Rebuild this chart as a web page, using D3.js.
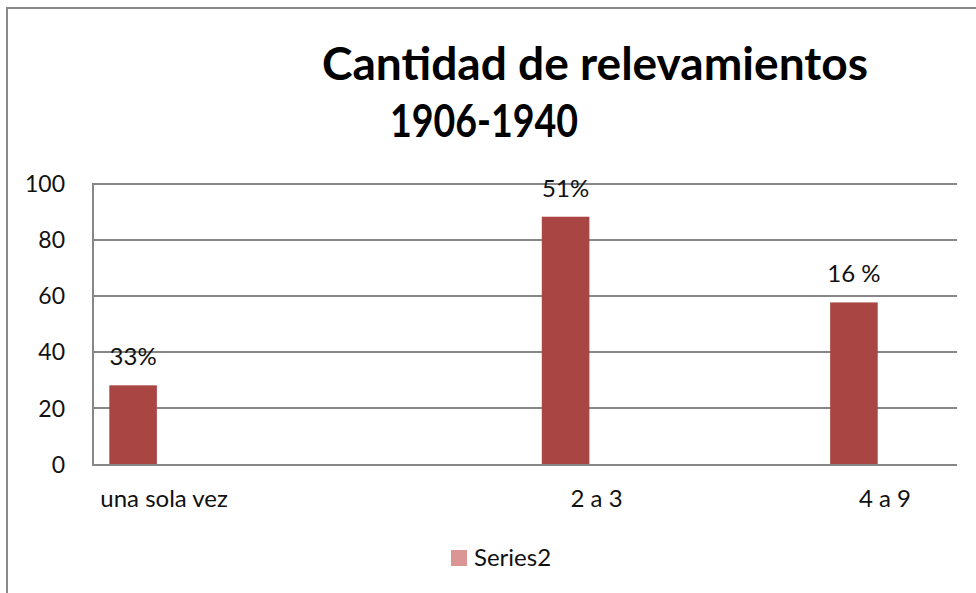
<!DOCTYPE html>
<html lang="es">
<head>
<meta charset="utf-8">
<title>Cantidad de relevamientos 1906-1940</title>
<script src="https://cdn.jsdelivr.net/npm/d3@7"></script>
<style>
  body { margin: 0; background: #ffffff; }
  text { font-family: Lato, "Open Sans", sans-serif; fill: #111111; }
  .grid line, .grid path { stroke: #878787; stroke-width: 2px; shape-rendering: crispEdges; }
  .grid text { font-size: 23px; }
  .cats text { font-size: 24px; }
  .barLabel { font-size: 24px; text-anchor: middle; }
  .title { font-size: 46px; font-weight: bold; fill: #000000; }
</style>
</head>
<body>
<svg width="976" height="593"></svg>
<script>
// données (catégories vides = emplacements sans barre)
const categories = ["una sola vez", "", "", "2 a 3", "", "4 a 9"];
const values = [28, null, null, 88, null, 57.5];
const barLabels = ["33%", "", "", "51%", "", "16 %"];
const yTicks = [0, 20, 40, 60, 80, 100];
const seriesName = "Series2";

const svg = d3.select("svg");

// cadre du graphique
svg.append("rect")
  .attr("x", 7).attr("y", 8)
  .attr("width", 1000).attr("height", 620)
  .style("fill", "none")
  .style("stroke", "#8a8a8a")
  .style("stroke-width", 2);

const x = d3.scaleBand()
  .domain(d3.range(categories.length))
  .range([92, 957]);

const y = d3.scaleLinear()
  .domain([0, 100])
  .range([464, 183]);

// grille + axe vertical
const axeY = d3.axisLeft(y)
  .tickValues(yTicks)
  .tickSize(-(957 - 92))
  .tickSizeOuter(0)
  .tickPadding(27);

svg.append("g")
  .classed("grid", true)
  .attr("transform", "translate(92,0)")
  .call(axeY)
  .call(g => g.selectAll("text").attr("dy", "0.36em"));

// barres
const bw = x.bandwidth();
const donnees = values.map((v, i) => ({ i: i, v: v, l: barLabels[i] })).filter(d => d.v !== null);

svg.selectAll("rect.bar")
  .data(donnees)
  .enter()
  .append("rect")
    .classed("bar", true)
    .attr("x", d => x(d.i) + bw * 0.12)
    .attr("width", bw * 0.33)
    .attr("y", d => y(d.v))
    .attr("height", d => y(0) - y(d.v))
    .style("fill", "#a94643");

// étiquettes des barres
svg.selectAll("text.barLabel")
  .data(donnees)
  .enter()
  .append("text")
    .classed("barLabel", true)
    .attr("x", d => x(d.i) + bw * 0.12 + bw * 0.165)
    .attr("y", d => y(d.v) - 20)
    .text(d => d.l);

// catégories
const axeX = d3.axisBottom(x)
  .tickSize(0)
  .tickFormat(i => categories[i]);

svg.append("g")
  .classed("cats", true)
  .attr("transform", "translate(0," + y(0) + ")")
  .call(axeX)
  .call(g => g.select(".domain").remove())
  .call(g => g.selectAll("text").attr("y", 43).attr("dy", null));

// titre
const titre = svg.append("text").classed("title", true);
titre.append("tspan").attr("x", 322).attr("y", 80)
  .attr("textLength", 546).attr("lengthAdjust", "spacingAndGlyphs")
  .text("Cantidad de relevamientos");
titre.append("tspan").attr("x", 390).attr("y", 137)
  .attr("textLength", 188).attr("lengthAdjust", "spacingAndGlyphs")
  .text("1906-1940");

// légende
const legende = svg.append("g").attr("transform", "translate(451,550)");
legende.append("rect")
  .attr("width", 16).attr("height", 16)
  .style("fill", "#d99694");
legende.append("text")
  .attr("x", 23).attr("y", 16)
  .style("font-size", "24px")
  .text(seriesName);
</script>
</body>
</html>
